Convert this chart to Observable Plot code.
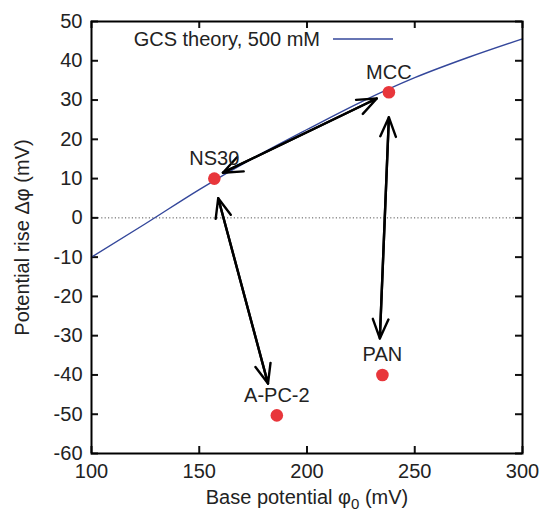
<!DOCTYPE html>
<html>
<head>
<meta charset="utf-8">
<script src="https://cdn.jsdelivr.net/npm/d3@7"></script>
<script src="https://cdn.jsdelivr.net/npm/@observablehq/plot@0.6"></script>
<style>
  html, body { margin: 0; padding: 0; background: #fff; }
  svg { display: block; }
</style>
</head>
<body>
<div id="chart"></div>
<script>
// Measured samples
const sampleNames = ["NS30", "MCC", "A-PC-2", "PAN"];
const basePotential = [157, 238, 186, 235];
const potentialRise = [10, 32, -50.3, -40];

// GCS theory curve (500 mM)
const theoryPhi0 = [100, 125, 150, 175, 200, 225, 250, 275, 300];
const theoryRise = [-10, -1.5, 7.2, 15.2, 22.5, 29.5, 35.7, 40.9, 45.6];

// Double-headed arrows between samples (end points)
const arrowX1 = [161, 158.8, 238];
const arrowY1 = [11.5, 5, 25.6];
const arrowX2 = [232.4, 181.9, 233.8];
const arrowY2 = [30.4, -42.2, -30.7];

// Axes
const xTicks = [100, 150, 200, 250, 300];
const yTicks = [50, 40, 30, 20, 10, 0, -10, -20, -30, -40, -50, -60];
const xLabel = "Base potential φ0 (mV)";
const yLabel = "Potential rise Δφ (mV)";
const legendLabel = "GCS theory, 500 mM";

const points = sampleNames.map((name, i) => ({name, x: basePotential[i], y: potentialRise[i]}));
const theory = theoryPhi0.map((x, i) => ({x, y: theoryRise[i]}));
const arrows = arrowX1.map((x1, i) => ({x1, y1: arrowY1[i], x2: arrowX2[i], y2: arrowY2[i]}));

const W = 544, H = 513;
const mL = 91, mR = 22, mT = 21, mB = 60;
const plotW = W - mL - mR, plotH = H - mT - mB;
const FONT = "'Liberation Sans', Arial, Helvetica, sans-serif";
const FS = 20;
const blue = "#34479b";
const red = "#e8363b";

const legendMark = (index, scales, values, dims) => {
  const g = d3.create("svg:g");
  const y = dims.marginTop + 18;
  g.append("text")
    .attr("x", dims.marginLeft + 229).attr("y", y).attr("dy", "0.35em")
    .attr("text-anchor", "end").attr("font-size", FS).attr("font-family", FONT).attr("fill", "#222")
    .text(legendLabel);
  g.append("line")
    .attr("x1", dims.marginLeft + 242).attr("x2", dims.marginLeft + 302)
    .attr("y1", y).attr("y2", y)
    .attr("stroke", blue).attr("stroke-width", 1.4);
  return g.node();
};

const chart = Plot.plot({
  width: W, height: H,
  marginLeft: mL, marginRight: mR, marginTop: mT, marginBottom: mB,
  style: {fontFamily: FONT, fontSize: FS + "px", color: "#222", background: "#fff"},
  x: {domain: [100, 300]},
  y: {domain: [-60, 50]},
  marks: [
    Plot.ruleY([0], {stroke: "#555", strokeWidth: 1, strokeDasharray: "1.2,2.2"}),
    // inward ticks on all four sides
    Plot.ruleX(xTicks, {x: d => d, insetTop: plotH - 7, stroke: "#111", strokeWidth: 2}),
    Plot.ruleX(xTicks, {x: d => d, insetBottom: plotH - 7, stroke: "#111", strokeWidth: 2}),
    Plot.ruleY(yTicks, {y: d => d, insetRight: plotW - 7, stroke: "#111", strokeWidth: 2}),
    Plot.ruleY(yTicks, {y: d => d, insetLeft: plotW - 7, stroke: "#111", strokeWidth: 2}),
    Plot.axisX({ticks: xTicks, tickSize: 0, tickPadding: 10, label: null, fontSize: FS, tickFormat: d => String(d)}),
    Plot.axisY({ticks: yTicks, tickSize: 0, tickPadding: 9, label: null, fontSize: FS, tickFormat: d => String(d)}),
    Plot.line(theory, {x: "x", y: "y", stroke: blue, strokeWidth: 1.4, curve: "monotone-x"}),
    Plot.arrow(arrows, {x1: "x1", y1: "y1", x2: "x2", y2: "y2", stroke: "#000", strokeWidth: 2.4, headLength: 13, headAngle: 44}),
    Plot.arrow(arrows, {x1: "x2", y1: "y2", x2: "x1", y2: "y1", stroke: "#000", strokeWidth: 2.4, headLength: 13, headAngle: 44}),
    Plot.dot(points, {x: "x", y: "y", r: 6.3, fill: red, stroke: "none"}),
    Plot.text(points, {x: "x", y: "y", text: "name", dy: -20, fontSize: FS, fill: "#222"}),
    Plot.text([xLabel], {text: d => d, frameAnchor: "bottom", textAnchor: "middle", lineAnchor: "middle", dy: 44, fontSize: FS, fill: "#222"}),
    Plot.text([yLabel], {text: d => d, frameAnchor: "left", textAnchor: "middle", lineAnchor: "middle", dx: -69, rotate: -90, fontSize: FS, fill: "#222"}),
    legendMark,
    Plot.frame({stroke: "#000", strokeWidth: 2})
  ]
});

document.getElementById("chart").appendChild(chart);

// subscript on φ0 in the x label
d3.select(chart).selectAll("text").each(function() {
  const t = d3.select(this);
  if (t.text() === xLabel) {
    t.text(null);
    t.append("tspan").text("Base potential φ");
    t.append("tspan").attr("dy", 5).attr("font-size", 15).text("0");
    t.append("tspan").attr("dy", -5).text(" (mV)");
  }
});
</script>
</body>
</html>
